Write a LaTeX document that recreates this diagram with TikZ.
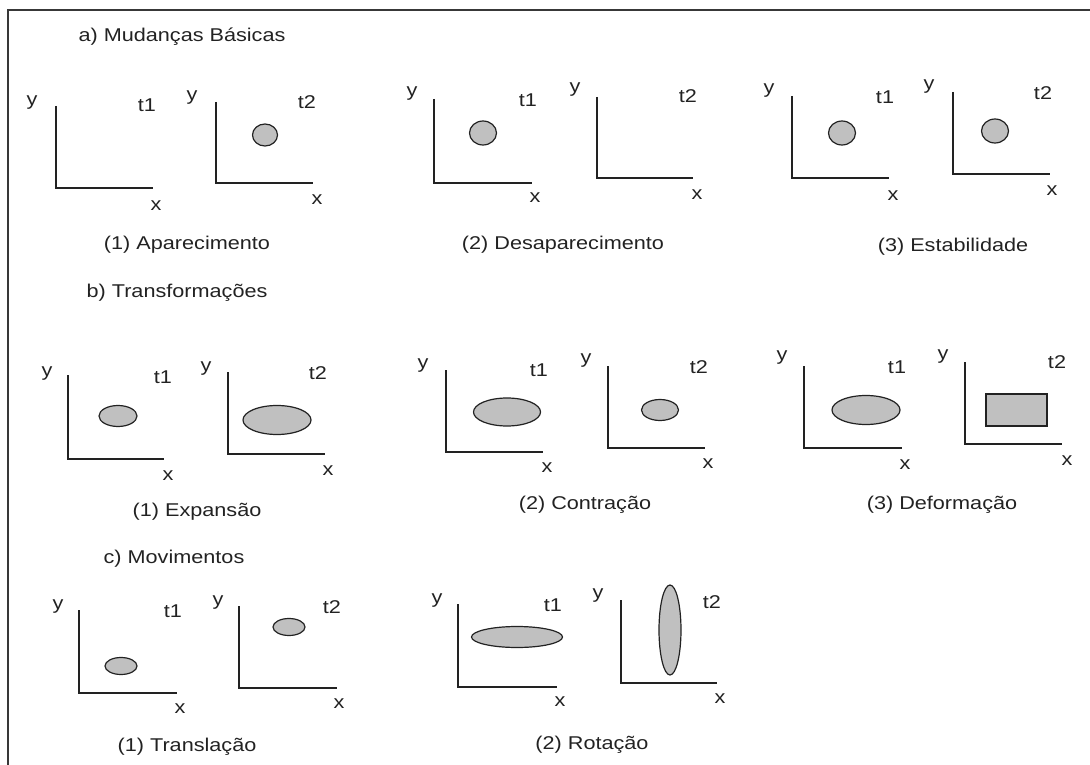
\documentclass[tikz,border=0pt]{standalone}
\usepackage{fontspec}
\setmainfont[FakeStretch=1.17]{Liberation Sans}
\usepackage{tikz}
\usetikzlibrary{positioning}
\definecolor{tinta}{HTML}{222222}
\definecolor{cinza}{HTML}{C0C0C0}
\tikzset{
    mudancas/.style={x=1pt, y=-1pt, font=\fontsize{18.5}{20}\selectfont, text=tinta},
    borda/.style={draw=tinta!90, line width=2pt},
    eixo/.style={draw=tinta, line width=1.8pt},
    objeto/.style={draw=tinta, fill=cinza, line width=1.2pt},
    rotulo/.style={inner sep=0pt, anchor=center},
    % titulos de secao e legendas
    secao/.style={rotulo},
    legenda/.style={rotulo},
}
\begin{document}
\begin{tikzpicture}[mudancas]
    \useasboundingbox (0,0) rectangle (1090,765);
    \draw[borda] (1090,10) -- (7.5,10) -- (7.5,765);

    % a) Mudancas basicas
    \node[secao] (ta) at (182,37) {a) Mudanças Básicas};

    % (1) aparecimento
    \draw[eixo] (56,106) |- (153,188);
    \node[rotulo] (ya1) at (32,103) {y};
    \node[rotulo] (xa1) at (156,206) {x};
    \node[rotulo] (ka1) at (147,105) {t1};
    \draw[eixo] (216,102) |- (313,183);
    \node[rotulo] (ya2) at (192,98) {y};
    \node[rotulo] (xa2) at (317,200) {x};
    \node[rotulo] (ka2) at (307,102) {t2};
    \draw[objeto] (265,135) ellipse (12.5 and 11);
    \node[legenda] (la1) at (187,245) {(1) Aparecimento};

    % (2) desaparecimento
    \draw[eixo] (434,99) |- (532,183);
    \node[rotulo] (ya3) at (412,94) {y};
    \node[rotulo] (xa3) at (535,198) {x};
    \node[rotulo] (ka3) at (528,100) {t1};
    \draw[objeto] (483,133) ellipse (13.5 and 12);
    \draw[eixo] (597,97) |- (693,178);
    \node[rotulo] (ya4) at (575,90) {y};
    \node[rotulo] (xa4) at (697,195) {x};
    \node[rotulo] (ka4) at (688,96) {t2};
    \node[legenda] (la2) at (563,245) {(2) Desaparecimento};

    % (3) estabilidade
    \draw[eixo] (792,96) |- (889,178);
    \node[rotulo] (ya5) at (769,91) {y};
    \node[rotulo] (xa5) at (893,196) {x};
    \node[rotulo] (ka5) at (885,97) {t1};
    \draw[objeto] (842,133) ellipse (13.5 and 12);
    \draw[eixo] (953,92) |- (1050,174);
    \node[rotulo] (ya6) at (929,87) {y};
    \node[rotulo] (xa6) at (1052,191) {x};
    \node[rotulo] (ka6) at (1043,93) {t2};
    \draw[objeto] (995,131) ellipse (13.5 and 12);
    \node[legenda] (la3) at (953,247) {(3) Estabilidade};

    % b) Transformacoes
    \node[secao] (tb) at (177,293) {b) Transformações};

    % (1) expansao
    \draw[eixo] (68,375) |- (164,459);
    \node[rotulo] (yb1) at (47,374) {y};
    \node[rotulo] (xb1) at (168,476) {x};
    \node[rotulo] (kb1) at (163,377) {t1};
    \draw[objeto] (118,416) ellipse (19 and 10.5);
    \draw[eixo] (228,372) |- (325,454);
    \node[rotulo] (yb2) at (206,369) {y};
    \node[rotulo] (xb2) at (328,471) {x};
    \node[rotulo] (kb2) at (318,373) {t2};
    \draw[objeto] (277,420) ellipse (34 and 14.5);
    \node[legenda] (lb1) at (197,512) {(1) Expansão};

    % (2) contracao
    \draw[eixo] (446,370) |- (543,452);
    \node[rotulo] (yb3) at (423,366) {y};
    \node[rotulo] (xb3) at (547,468) {x};
    \node[rotulo] (kb3) at (539,370) {t1};
    \draw[objeto] (507,412) ellipse (33.5 and 14);
    \draw[eixo] (608,366) |- (705,448);
    \node[rotulo] (yb4) at (586,361) {y};
    \node[rotulo] (xb4) at (708,464) {x};
    \node[rotulo] (kb4) at (699,367) {t2};
    \draw[objeto] (660,410) ellipse (18.5 and 10.5);
    \node[legenda] (lb2) at (585,505) {(2) Contração};

    % (3) deformacao
    \draw[eixo] (804,366) |- (902,448);
    \node[rotulo] (yb5) at (782,358) {y};
    \node[rotulo] (xb5) at (905,465) {x};
    \node[rotulo] (kb5) at (897,367) {t1};
    \draw[objeto] (866,410) ellipse (34 and 14.5);
    \draw[eixo] (965,362) |- (1062,444);
    \node[rotulo] (yb6) at (943,357) {y};
    \node[rotulo] (xb6) at (1067,461) {x};
    \node[rotulo] (kb6) at (1057,362) {t2};
    \draw[objeto] (986,394) rectangle (1047,426);
    \node[legenda] (lb3) at (942,505) {(3) Deformação};

    % c) Movimentos
    \node[secao] (tc) at (174,559) {c) Movimentos};

    % (1) translacao
    \draw[eixo] (79,610) |- (177,693);
    \node[rotulo] (yc1) at (58,607) {y};
    \node[rotulo] (xc1) at (180,709) {x};
    \node[rotulo] (kc1) at (173,611) {t1};
    \draw[objeto] (121,666) ellipse (16 and 8.5);
    \draw[eixo] (239,606) |- (337,688);
    \node[rotulo] (yc2) at (218,603) {y};
    \node[rotulo] (xc2) at (339,704) {x};
    \node[rotulo] (kc2) at (332,607) {t2};
    \draw[objeto] (289,627) ellipse (16 and 8.5);
    \node[legenda] (lc1) at (187,747) {(1) Translação};

    % (2) rotacao
    \draw[eixo] (458,604) |- (557,687);
    \node[rotulo] (yc3) at (437,601) {y};
    \node[rotulo] (xc3) at (560,702) {x};
    \node[rotulo] (kc3) at (553,605) {t1};
    \draw[objeto] (517,637) ellipse (45.5 and 10.5);
    \draw[eixo] (621,600) |- (717,683);
    \node[rotulo] (yc4) at (598,596) {y};
    \node[rotulo] (xc4) at (720,699) {x};
    \node[rotulo] (kc4) at (712,602) {t2};
    \draw[objeto] (670,630) ellipse (11 and 45);
    \node[legenda] (lc2) at (592,745) {(2) Rotação};
\end{tikzpicture}
\end{document}
